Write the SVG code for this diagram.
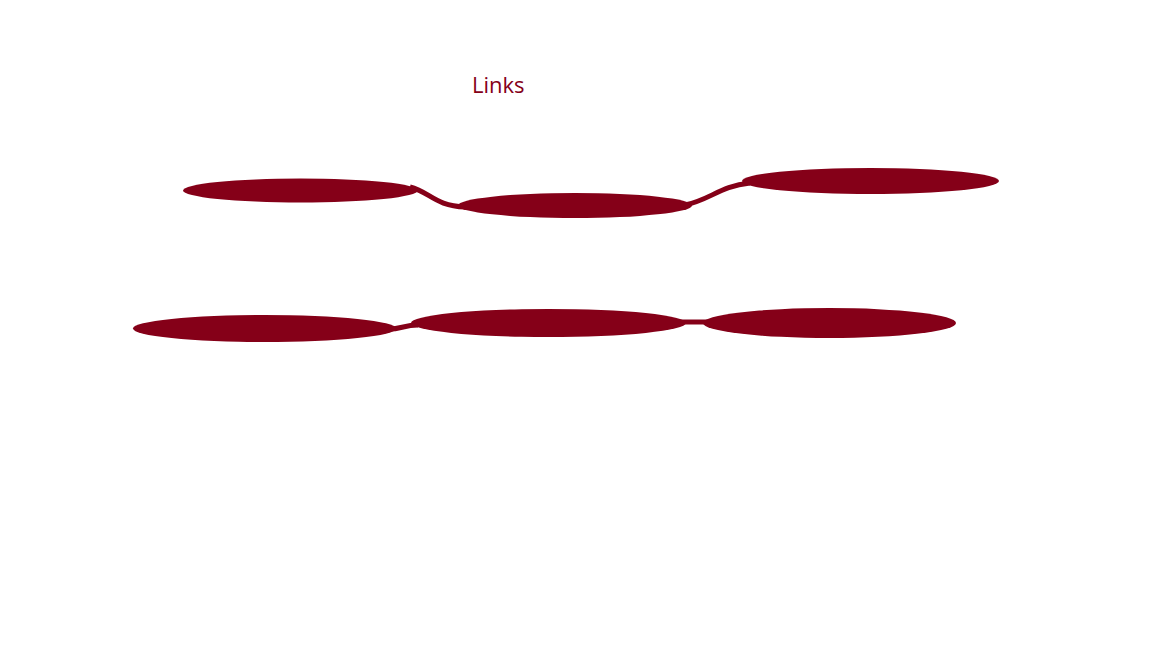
<svg xmlns="http://www.w3.org/2000/svg" width="1152" height="648" viewBox="0 0 1152 648">
<style>
.n{fill:#850018}
.l{fill:none;stroke:#850018;stroke-width:5}
.t{font-family:"Open Sans",sans-serif;font-size:22px;fill:#850018}
</style>
<rect width="1152" height="648" fill="#fff"/>
<text class="t" x="472" y="93">Links</text>
<g id="links">
<path class="l" d="M410,187 C430,192 435,206 465,207"/>
<path class="l" d="M685,205 C710,200 720,186 750,183"/>
<path class="l" d="M390,329 C400,329 405,325 418,325"/>
<path class="l" d="M680,322 L710,322"/>
</g>
<g id="n1"><ellipse class="n" cx="300.5" cy="190.5" rx="117.5" ry="12"/></g>
<g id="n2"><ellipse class="n" cx="575" cy="205.5" rx="117" ry="12.5"/></g>
<g id="n3"><ellipse class="n" cx="870.5" cy="181" rx="128.5" ry="13"/></g>
<g id="n4"><ellipse class="n" cx="264.5" cy="328.5" rx="131.5" ry="13.5"/></g>
<g id="n5"><ellipse class="n" cx="548.5" cy="323" rx="137.5" ry="14"/></g>
<g id="n6"><ellipse class="n" cx="829.5" cy="323" rx="126.5" ry="15"/></g>
</svg>
